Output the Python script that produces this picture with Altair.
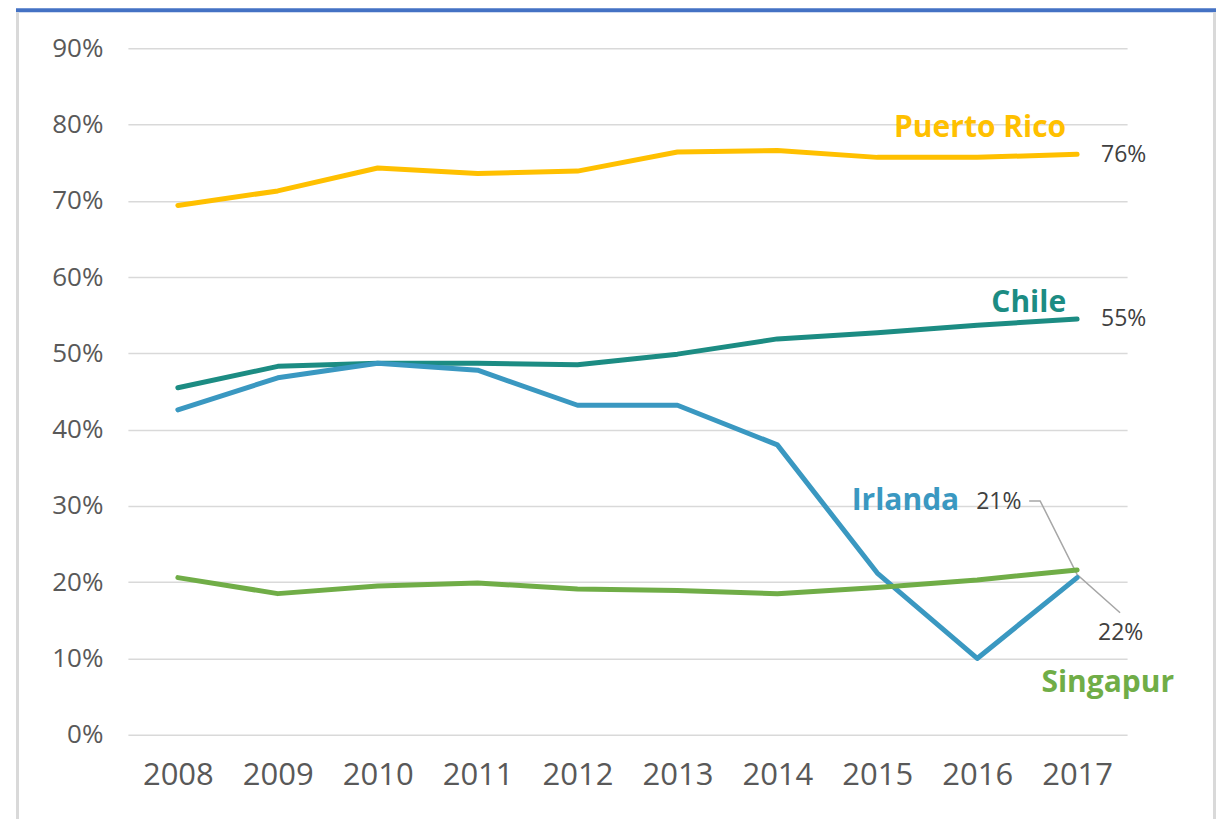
import altair as alt
import pandas as pd

years = [2008, 2009, 2010, 2011, 2012, 2013, 2014, 2015, 2016, 2017]
series_names = ["Puerto Rico", "Chile", "Irlanda", "Singapur"]
puerto_rico = [0.694, 0.713, 0.743, 0.736, 0.739, 0.764, 0.766, 0.757, 0.757, 0.761]
chile = [0.455, 0.483, 0.487, 0.487, 0.485, 0.499, 0.519, 0.527, 0.537, 0.545]
irlanda = [0.426, 0.468, 0.487, 0.478, 0.432, 0.432, 0.380, 0.212, 0.100, 0.206]
singapur = [0.206, 0.185, 0.195, 0.199, 0.191, 0.189, 0.185, 0.193, 0.203, 0.216]
colors = ["#FFC000", "#1C8C83", "#3A98C1", "#70AD47"]

# series name labels (right aligned, alphabetic baseline)
name_x = [2016.89, 2016.89, 2015.82, 2017.97]
name_y = [0.7834, 0.554, 0.2948, 0.0563]
# value labels at the end of lines
value_text = ["76%", "55%", "21%", "22%"]
value_x = [2017.24, 2017.24, 2015.99, 2017.21]
value_y = [0.760, 0.545, 0.305, 0.1336]
# leader line for the 21% / 22% labels
leader_x = [2016.52, 2016.63, 2017.0, 2017.43]
leader_y = [0.3066, 0.3066, 0.210, 0.160]

rows = []
for name, vals in zip(series_names, [puerto_rico, chile, irlanda, singapur]):
    for yr, v in zip(years, vals):
        rows.append({"year": yr, "value": v, "series": name})
df = pd.DataFrame(rows)

names_df = pd.DataFrame({"series": series_names, "x": name_x, "y": name_y})
values_df = pd.DataFrame({"label": value_text, "x": value_x, "y": value_y})
leader_df = pd.DataFrame({"x": leader_x, "y": leader_y, "o": list(range(len(leader_x)))})

xscale = alt.Scale(domain=[2007.5, 2017.5], nice=False, zero=False)
yscale = alt.Scale(domain=[0, 0.9], nice=False)
cscale = alt.Scale(domain=series_names, range=colors)

font = "Open Sans"

lines = alt.Chart(df).mark_line(strokeWidth=5, strokeCap="round", strokeJoin="round").encode(
    x=alt.X("year:Q", scale=xscale,
            axis=alt.Axis(values=years, format="d", grid=False, domain=False, ticks=False,
                          labelFontSize=31, labelColor="#595959", labelFont=font,
                          labelPadding=26, title=None, labelFlush=False)),
    y=alt.Y("value:Q", scale=yscale,
            axis=alt.Axis(values=[i / 10 for i in range(10)], format=".0%", domain=False, ticks=False,
                          gridColor="#D9D9D9", gridWidth=1.5,
                          labelFontSize=26, labelColor="#595959", labelFont=font,
                          labelPadding=25, title=None)),
    color=alt.Color("series:N", scale=cscale, legend=None),
    detail="series:N",
    order=alt.Order("year:Q"),
)

leader = alt.Chart(leader_df).mark_line(color="#A6A6A6", strokeWidth=1.5).encode(
    x=alt.X("x:Q", scale=xscale), y=alt.Y("y:Q", scale=yscale), order="o:Q"
)

names = alt.Chart(names_df).mark_text(
    align="right", baseline="alphabetic", fontSize=30, fontWeight="bold", font=font
).encode(
    x=alt.X("x:Q", scale=xscale), y=alt.Y("y:Q", scale=yscale), text="series:N",
    color=alt.Color("series:N", scale=cscale, legend=None),
)

vals = alt.Chart(values_df).mark_text(
    align="left", baseline="middle", fontSize=23, font=font, color="#404040"
).encode(
    x=alt.X("x:Q", scale=xscale), y=alt.Y("y:Q", scale=yscale), text="label:N"
)

one = alt.Data(values=[{"a": 1}])
blue_bar = alt.Chart(one).mark_rect(color="#4472C4").encode(
    x=alt.value(-112), x2=alt.value(1089), y=alt.value(-40), y2=alt.value(-36)
)
left_border = alt.Chart(one).mark_rule(color="#D9D9D9", strokeWidth=3).encode(
    x=alt.value(-110.5), y=alt.value(-36), y2=alt.value(800)
)
right_border = alt.Chart(one).mark_rule(color="#D9D9D9", strokeWidth=3).encode(
    x=alt.value(1087.5), y=alt.value(-36), y2=alt.value(800)
)

chart = alt.layer(leader, lines, names, vals, blue_bar, left_border, right_border).properties(
    width=1000, height=687,
    padding={"left": 120, "top": 40, "right": 90, "bottom": 84},
    autosize=alt.AutoSizeParams(type="none"),
    background="white",
).configure_view(stroke=None)

chart.save("out.html", embed_options={"renderer": "svg", "actions": False})
